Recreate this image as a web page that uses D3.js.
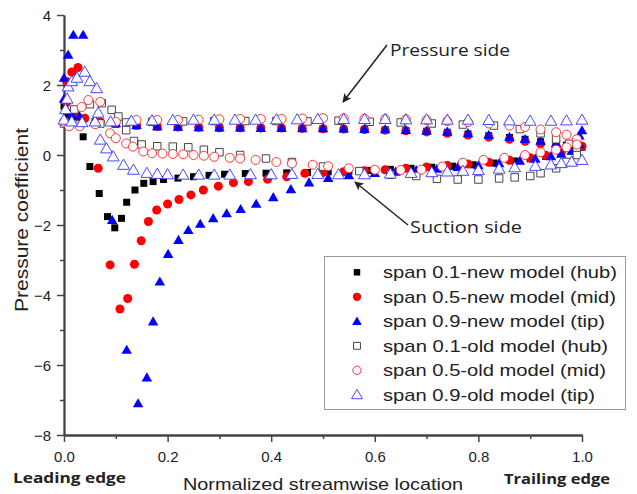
<!DOCTYPE html>
<html>
<head>
<meta charset="utf-8">
<script src="https://cdn.jsdelivr.net/npm/d3@7/dist/d3.min.js"></script>
<style>
  html, body { margin: 0; padding: 0; background: #fff; }
  svg { display: block; }
</style>
</head>
<body>
<svg id="chart" width="637" height="494"></svg>
<script>
// ---------------- DATA ----------------
const xTicks = [0.0, 0.2, 0.4, 0.6, 0.8, 1.0];
const xMinor = [0.1, 0.3, 0.5, 0.7, 0.9];
const yTicks = [-8, -6, -4, -2, 0, 2, 4];
const yMinor = [-7, -5, -3, -1, 1, 3];

const legendLabels = [
  "span 0.1-new model (hub)",
  "span 0.5-new model (mid)",
  "span 0.9-new model (tip)",
  "span 0.1-old model (hub)",
  "span 0.5-old model (mid)",
  "span 0.9-old model (tip)"
];

// new model, hub (filled squares): pressure side then suction side
const hubNew = [
  [0.0,1.4],[0.005,1.15],[0.015,1.1],[0.025,1.1],[0.04,1.05],[0.06,0.95],[0.1,0.88],[0.14,0.83],
  [0.18,0.8],[0.22,0.79],[0.26,0.78],[0.3,0.78],[0.34,0.77],[0.38,0.77],[0.42,0.76],[0.46,0.76],
  [0.5,0.75],[0.54,0.74],[0.58,0.73],[0.62,0.72],[0.66,0.7],[0.7,0.68],[0.74,0.65],[0.78,0.6],
  [0.82,0.55],[0.86,0.5],[0.89,0.45],[0.92,0.38],[0.95,0.32],[0.97,0.28],[0.99,0.35],
  [0.037,0.52],[0.05,-0.33],[0.068,-1.1],[0.084,-1.76],[0.098,-2.08],[0.111,-1.81],[0.121,-1.35],
  [0.137,-1.0],[0.154,-0.81],[0.172,-0.76],[0.192,-0.7],[0.22,-0.66],[0.25,-0.62],[0.28,-0.58],
  [0.31,-0.55],[0.35,-0.53],[0.39,-0.52],[0.43,-0.51],[0.47,-0.5],[0.51,-0.48],[0.55,-0.46],
  [0.59,-0.44],[0.63,-0.41],[0.67,-0.38],[0.71,-0.35],[0.75,-0.32],[0.79,-0.28],[0.83,-0.23],
  [0.87,-0.17],[0.9,-0.11],[0.93,-0.04],[0.96,0.04],[0.98,0.12],[1.0,0.22]
];

// new model, mid (filled circles)
const midNew = [
  [0.005,2.1],[0.015,2.37],[0.027,2.5],[0.005,1.5],[0.02,1.2],[0.04,1.05],[0.07,0.95],[0.1,0.9],
  [0.14,0.85],[0.18,0.82],[0.22,0.8],[0.26,0.79],[0.3,0.78],[0.34,0.78],[0.38,0.77],[0.42,0.77],
  [0.46,0.76],[0.5,0.75],[0.54,0.74],[0.58,0.73],[0.62,0.71],[0.66,0.69],[0.7,0.66],[0.74,0.62],
  [0.78,0.57],[0.82,0.51],[0.86,0.45],[0.89,0.39],[0.92,0.32],[0.95,0.25],[0.97,0.22],[0.99,0.28],
  [0.066,-0.38],[0.089,-3.14],[0.108,-4.4],[0.123,-4.1],[0.136,-3.12],[0.149,-2.45],[0.163,-1.9],
  [0.179,-1.57],[0.2,-1.4],[0.222,-1.27],[0.245,-1.14],[0.269,-1.0],[0.298,-0.89],[0.327,-0.79],
  [0.356,-0.76],[0.393,-0.69],[0.43,-0.62],[0.465,-0.52],[0.5,-0.5],[0.54,-0.48],[0.58,-0.45],
  [0.62,-0.42],[0.66,-0.38],[0.7,-0.34],[0.74,-0.3],[0.78,-0.26],[0.82,-0.21],[0.86,-0.15],
  [0.9,-0.08],[0.93,-0.01],[0.96,0.07],[0.98,0.14],[1.0,0.25]
];

// new model, tip (filled triangles)
const tipNew = [
  [0.0,2.2],[0.008,2.86],[0.018,3.43],[0.037,3.43],[0.0,1.6],[0.005,1.3],[0.015,1.15],[0.03,1.1],
  [0.06,1.0],[0.1,0.9],[0.14,0.85],[0.18,0.82],[0.22,0.8],[0.26,0.79],[0.3,0.78],[0.34,0.78],
  [0.38,0.77],[0.42,0.77],[0.46,0.76],[0.5,0.76],[0.54,0.75],[0.58,0.74],[0.62,0.73],[0.66,0.71],
  [0.7,0.69],[0.74,0.66],[0.78,0.62],[0.82,0.57],[0.86,0.51],[0.89,0.45],[0.92,0.4],[0.95,0.33],
  [0.97,0.3],[0.985,0.4],[0.995,0.55],[1.0,0.7],
  [0.093,-1.86],[0.121,-5.57],[0.143,-7.1],[0.16,-6.36],[0.172,-4.76],[0.185,-3.62],[0.201,-2.83],
  [0.221,-2.43],[0.24,-2.15],[0.263,-1.97],[0.288,-1.81],[0.314,-1.67],[0.341,-1.55],[0.371,-1.4],
  [0.404,-1.21],[0.438,-0.98],[0.473,-0.79],[0.51,-0.66],[0.55,-0.58],[0.6,-0.52],[0.64,-0.48],
  [0.68,-0.44],[0.72,-0.4],[0.76,-0.35],[0.8,-0.3],[0.84,-0.24],[0.88,-0.17],[0.91,-0.11],
  [0.94,-0.04],[0.96,0.03],[0.98,0.12],[0.995,0.3]
];

// old model, hub (open squares)
const hubOld = [
  [0.0,0.9],[0.03,0.88],[0.07,0.9],[0.12,0.93],[0.17,0.95],[0.23,0.96],[0.29,0.97],[0.35,0.97],
  [0.41,0.97],[0.47,0.96],[0.53,0.98],[0.59,0.95],[0.65,0.93],[0.71,0.9],[0.77,0.87],[0.83,0.84],
  [0.88,0.74],[0.92,0.62],[0.95,0.45],[0.975,0.32],[0.99,0.2],
  [0.02,1.3],[0.05,1.45],[0.073,1.48],[0.092,1.29],[0.105,1.1],[0.12,0.71],[0.135,0.4],[0.15,0.3],
  [0.18,0.25],[0.21,0.24],[0.24,0.22],[0.27,0.15],[0.3,0.08],[0.34,0.0],[0.39,-0.1],[0.44,-0.2],
  [0.5,-0.33],[0.57,-0.46],[0.63,-0.56],[0.68,-0.6],[0.72,-0.68],[0.76,-0.7],[0.8,-0.7],
  [0.84,-0.67],[0.87,-0.64],[0.9,-0.6],[0.92,-0.52],[0.95,-0.38],[0.97,-0.2],[0.99,0.0]
];

// old model, mid (open circles)
const midOld = [
  [0.0,0.95],[0.01,0.82],[0.03,0.82],[0.06,0.88],[0.1,0.95],[0.14,1.0],[0.18,1.0],[0.22,1.0],
  [0.26,1.01],[0.3,1.02],[0.34,1.03],[0.38,1.03],[0.42,1.03],[0.46,1.04],[0.5,1.05],[0.54,1.05],
  [0.58,1.04],[0.62,1.03],[0.66,1.02],[0.7,1.0],[0.74,0.97],[0.78,0.94],[0.82,0.9],[0.86,0.84],
  [0.89,0.8],[0.92,0.73],[0.95,0.65],[0.97,0.58],[0.99,0.45],
  [0.034,1.37],[0.047,1.57],[0.07,1.52],[0.089,0.62],[0.1,0.48],[0.12,0.33],[0.133,0.24],
  [0.153,0.1],[0.17,0.05],[0.19,0.04],[0.21,0.03],[0.23,0.02],[0.25,0.0],[0.27,-0.02],[0.29,-0.05],
  [0.32,-0.08],[0.34,-0.1],[0.37,-0.14],[0.41,-0.2],[0.44,-0.24],[0.48,-0.28],[0.51,-0.32],
  [0.55,-0.38],[0.6,-0.42],[0.65,-0.43],[0.69,-0.42],[0.73,-0.33],[0.77,-0.22],[0.81,-0.14],
  [0.85,-0.08],[0.89,0.0],[0.92,0.08],[0.95,0.15],[0.97,0.22],[0.99,0.3]
];

// old model, tip (open triangles)
const tipOld = [
  [0.0,1.0],[0.015,0.95],[0.035,0.93],[0.06,0.95],[0.09,0.95],[0.13,0.97],[0.17,0.98],[0.21,0.99],
  [0.25,1.0],[0.29,1.0],[0.33,1.0],[0.37,1.0],[0.41,1.01],[0.45,1.01],[0.49,1.02],[0.54,1.02],
  [0.58,1.02],[0.62,1.02],[0.66,1.01],[0.7,1.01],[0.74,1.0],[0.78,1.0],[0.82,0.99],[0.86,0.98],
  [0.9,0.97],[0.94,0.97],[0.97,0.98],[1.0,1.0],
  [0.003,1.3],[0.006,1.6],[0.008,1.95],[0.015,2.1],[0.025,2.2],[0.04,2.37],[0.05,2.1],[0.063,1.9],
  [0.066,1.2],[0.07,0.43],[0.082,0.18],[0.095,-0.05],[0.115,-0.29],[0.134,-0.43],[0.16,-0.52],
  [0.18,-0.55],[0.2,-0.56],[0.23,-0.57],[0.26,-0.57],[0.29,-0.57],[0.32,-0.57],[0.36,-0.56],
  [0.4,-0.56],[0.44,-0.55],[0.49,-0.55],[0.53,-0.56],[0.58,-0.56],[0.63,-0.54],[0.67,-0.52],
  [0.71,-0.5],[0.74,-0.48],[0.77,-0.46],[0.8,-0.44],[0.84,-0.4],[0.87,-0.36],[0.91,-0.32],
  [0.94,-0.28],[0.96,-0.24],[0.98,-0.2],[1.0,-0.15]
];

// ---------------- CHART ----------------
const svg = d3.select("#chart");
const W = 637, H = 494;
const x = d3.scaleLinear().domain([0, 1]).range([64, 582]);
const y = d3.scaleLinear().domain([-8, 4]).range([435, 15]);
const axisColor = "#444";
const textColor = "#222";
const sansA = "'Liberation Sans', Arial, sans-serif";
const sansB = "'Open Sans', 'Noto Sans', sans-serif";

// axes
const gx = svg.append("g").attr("transform", `translate(0,${y(-8)})`)
  .call(d3.axisBottom(x).tickValues(xTicks).tickSize(7).tickSizeOuter(0)
    .tickFormat(d3.format(".1f")));
const gxm = svg.append("g").attr("transform", `translate(0,${y(-8)})`)
  .call(d3.axisBottom(x).tickValues(xMinor).tickSize(4).tickSizeOuter(0).tickFormat(""));
const gy = svg.append("g").attr("transform", `translate(${x(0)},0)`)
  .call(d3.axisLeft(y).tickValues(yTicks).tickSize(7).tickSizeOuter(0));
const gym = svg.append("g").attr("transform", `translate(${x(0)},0)`)
  .call(d3.axisLeft(y).tickValues(yMinor).tickSize(4).tickSizeOuter(0).tickFormat(""));
[gx, gxm, gy, gym].forEach(g => {
  g.select(".domain").attr("stroke", axisColor).attr("stroke-width", 1.8);
  g.selectAll(".tick line").attr("stroke", axisColor).attr("stroke-width", 1.5);
  g.selectAll("text").attr("fill", textColor).attr("font-family", sansA).attr("font-size", 15);
});
gx.selectAll(".tick text").attr("dy", null).attr("y", 27);
gy.selectAll(".tick text").attr("x", -13).attr("dy", "0.36em");

// markers
const symSquare = d3.symbol().type(d3.symbolSquare);
const symCircle = d3.symbol().type(d3.symbolCircle);
const symTri = d3.symbol().type(d3.symbolTriangle);

const series = [
  { data: hubNew, sym: symSquare, size: 49, fill: "#000", stroke: "none", sw: 0, dy: 0 },
  { data: midNew, sym: symCircle, size: 64, fill: "#f00", stroke: "none", sw: 0, dy: 0 },
  { data: tipNew, sym: symTri, size: 48, fill: "#00f", stroke: "none", sw: 0, dy: 0.8 },
  { data: hubOld, sym: symSquare, size: 56, fill: "#fff", stroke: "#333", sw: 0.9, dy: 0 },
  { data: midOld, sym: symCircle, size: 64, fill: "#fff", stroke: "#f22", sw: 0.9, dy: 0 },
  { data: tipOld, sym: symTri, size: 60, fill: "#fff", stroke: "#33f", sw: 0.9, dy: 0.8 }
];

series.forEach(s => {
  svg.append("g").selectAll("path").data(s.data).join("path")
    .attr("d", s.sym.size(s.size)())
    .attr("transform", d => `translate(${x(d[0])},${y(d[1]) + s.dy})`)
    .attr("fill", s.fill)
    .attr("stroke", s.stroke)
    .attr("stroke-width", s.sw);
});

// legend
const lg = svg.append("g");
lg.append("rect").attr("x", 324.5).attr("y", 256.5).attr("width", 301).attr("height", 153)
  .attr("fill", "#fff").attr("stroke", "#999").attr("stroke-width", 1);
const legendWidths = [234, 233, 222, 225, 223, 212];
legendLabels.forEach((lab, i) => {
  const by = 278.3 + i * 24.5;
  const s = series[i];
  lg.append("path")
    .attr("d", s.sym.size(s.size * 0.85)())
    .attr("transform", `translate(357,${by - 6 + s.dy})`)
    .attr("fill", s.fill).attr("stroke", s.stroke).attr("stroke-width", s.sw);
  lg.append("text").attr("x", 383).attr("y", by)
    .attr("font-family", sansA).attr("font-size", 17).attr("fill", textColor)
    .attr("textLength", legendWidths[i]).attr("lengthAdjust", "spacingAndGlyphs")
    .text(lab);
});

// axis titles
svg.append("text").attr("x", 183).attr("y", 490)
  .attr("font-family", sansA).attr("font-size", 17).attr("fill", textColor)
  .attr("textLength", 280).attr("lengthAdjust", "spacingAndGlyphs")
  .text("Normalized streamwise location");
svg.append("text")
  .attr("transform", "translate(28,220) rotate(-90)")
  .attr("text-anchor", "middle")
  .attr("font-family", sansA).attr("font-size", 18).attr("fill", textColor)
  .attr("textLength", 184).attr("lengthAdjust", "spacingAndGlyphs")
  .text("Pressure coefficient");
svg.append("text").attr("x", 13).attr("y", 483)
  .attr("font-family", sansB).attr("font-size", 15).attr("font-weight", "bold").attr("fill", textColor)
  .attr("textLength", 113).attr("lengthAdjust", "spacingAndGlyphs")
  .text("Leading edge");
svg.append("text").attr("x", 504).attr("y", 484)
  .attr("font-family", sansB).attr("font-size", 15).attr("font-weight", "bold").attr("fill", textColor)
  .attr("textLength", 106).attr("lengthAdjust", "spacingAndGlyphs")
  .text("Trailing edge");

// annotations
svg.append("defs").append("marker")
  .attr("id", "arr").attr("viewBox", "0 0 10 10").attr("refX", 9).attr("refY", 5)
  .attr("markerWidth", 9).attr("markerHeight", 9).attr("markerUnits", "userSpaceOnUse")
  .attr("orient", "auto")
  .append("path").attr("d", "M0,0 L10,5 L0,10 L2.5,5 Z").attr("fill", "#222");

svg.append("line").attr("x1", 387).attr("y1", 45).attr("x2", 343).attr("y2", 102)
  .attr("stroke", "#222").attr("stroke-width", 1.5).attr("marker-end", "url(#arr)");
svg.append("text").attr("x", 390).attr("y", 56)
  .attr("font-family", sansB).attr("font-size", 16).attr("fill", textColor)
  .attr("textLength", 120).attr("lengthAdjust", "spacingAndGlyphs")
  .text("Pressure side");

svg.append("line").attr("x1", 408).attr("y1", 225).attr("x2", 355).attr("y2", 182)
  .attr("stroke", "#222").attr("stroke-width", 1.5).attr("marker-end", "url(#arr)");
svg.append("text").attr("x", 410).attr("y", 233)
  .attr("font-family", sansB).attr("font-size", 16).attr("fill", textColor)
  .attr("textLength", 112).attr("lengthAdjust", "spacingAndGlyphs")
  .text("Suction side");
</script>
</body>
</html>
